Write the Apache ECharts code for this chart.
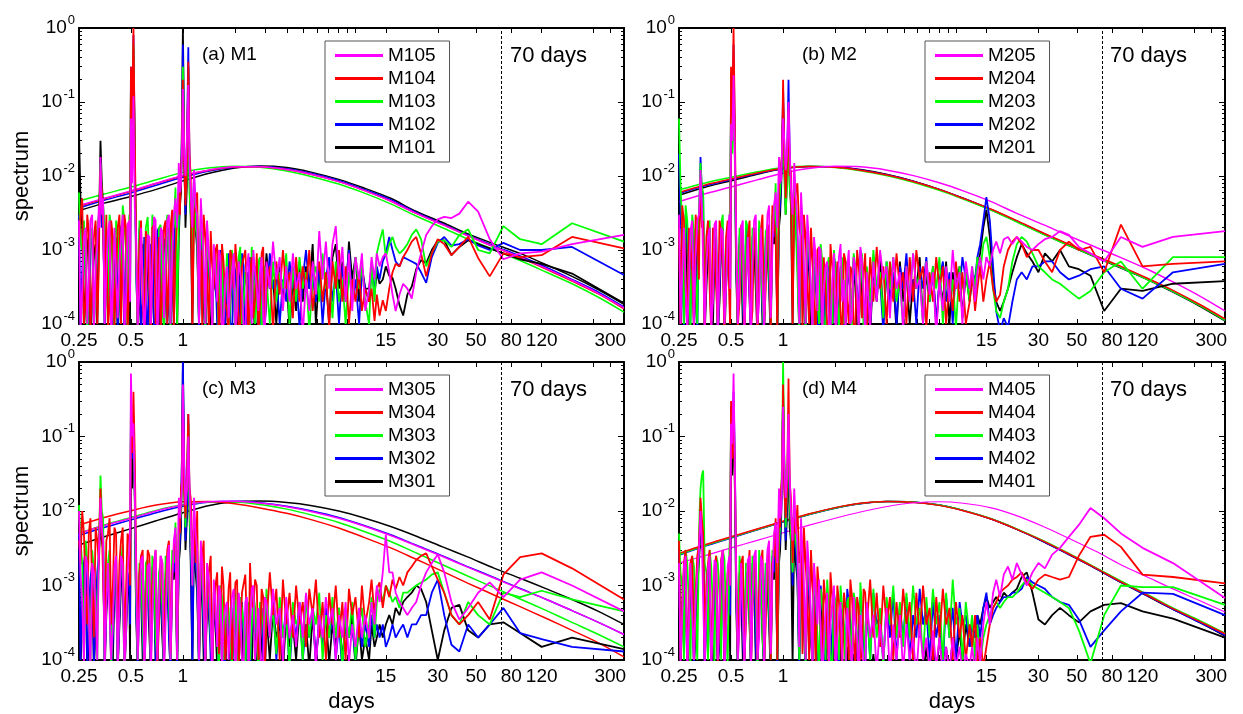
<!DOCTYPE html>
<html>
<head>
<meta charset="utf-8">
<script src="https://cdn.jsdelivr.net/npm/echarts@6/dist/echarts.min.js"></script>
<style>
  html, body { margin: 0; padding: 0; background: #fff; }
  #chart { width: 1243px; height: 714px; }
</style>
</head>
<body>
<div id="chart"></div>
<script>
// periods (days) of the spectral estimates, shared by every spectrum
const periods = [
  0.25, 0.261, 0.273, 0.285, 0.298, 0.312, 0.326, 0.333, 0.345, 0.36,
  0.376, 0.393, 0.41, 0.429, 0.448, 0.468, 0.489, 0.5, 0.517, 0.535,
  0.56, 0.585, 0.61, 0.64, 0.665, 0.695, 0.727, 0.76, 0.794, 0.83,
  0.867, 0.906, 0.947, 0.975, 1.0, 1.035, 1.075, 1.11, 1.16, 1.21,
  1.27, 1.32, 1.38, 1.45, 1.51, 1.58, 1.65, 1.72, 1.8, 1.88,
  1.97, 2.06, 2.15, 2.25, 2.35, 2.45, 2.56, 2.68, 2.8, 2.92,
  3.05, 3.19, 3.33, 3.48, 3.64, 3.8, 3.97, 4.15, 4.34, 4.53,
  4.74, 4.95, 5.17, 5.4, 5.65, 5.9, 6.17, 6.45, 6.74, 7.04,
  7.36, 7.69, 8.03, 8.4, 8.77, 9.17, 9.58, 10, 10.5, 10.9,
  11.4, 12, 12.4, 12.9, 13.3, 13.8, 14.4, 15, 15.7, 16.4,
  17.1, 18, 18.9, 20, 21.2, 22.5, 24, 25.7, 27.7, 30,
  32.7, 36, 40, 45, 51.4, 60, 72, 90, 120, 180,
  360
];
// extra estimates in between, for the dense short-period band
const periodsMid = [
  0.255, 0.267, 0.279, 0.291, 0.305, 0.319, 0.329, 0.339, 0.352, 0.368,
  0.384, 0.401, 0.419, 0.438, 0.458, 0.478, 0.494, 0.508, 0.526, 0.547,
  0.572, 0.597, 0.625, 0.652, 0.68, 0.711, 0.743, 0.777, 0.812, 0.848,
  0.886, 0.926, 0.961, 0.987, 1.017, 1.055, 1.092, 1.135, 1.185, 1.24,
  1.295, 1.35, 1.415, 1.48, 1.545, 1.615, 1.685, 1.76, 1.84, 1.925,
  2.015, 2.105, 2.2, 2.3, 2.4, 2.505, 2.62, 2.74, 2.86, 2.985
];
// periods of the smooth reference spectra
const fitPeriods = [0.25, 0.35, 0.5, 0.7, 1, 1.4, 2, 2.8, 4, 5.6, 8, 11, 16, 22, 32, 45, 64, 90, 128, 180, 256, 360];

const xTickValues = [0.25, 0.5, 1, 2, 3, 4, 5, 6, 7, 8, 9, 10, 15, 30, 50, 80, 120, 240, 300];
const xLabelValues = [0.25, 0.5, 1, 15, 30, 50, 80, 120, 300];
const yTickValues = [1e-4, 1e-3, 1e-2, 1e-1, 1];
const yMinorValues = [
  2e-4, 3e-4, 4e-4, 5e-4, 6e-4, 7e-4, 8e-4, 9e-4,
  2e-3, 3e-3, 4e-3, 5e-3, 6e-3, 7e-3, 8e-3, 9e-3,
  2e-2, 3e-2, 4e-2, 5e-2, 6e-2, 7e-2, 8e-2, 9e-2,
  0.2, 0.3, 0.4, 0.5, 0.6, 0.7, 0.8, 0.9
];

// ---------- (a) M1 ----------
const aM105 = [
  2.5e-3, 3e-4, 2e-3, 4e-4, 3e-3, 6e-4, 4e-3, 1.8e-2, 5e-3, 5e-4,
  2.5e-3, 3e-4, 2e-3, 7e-4, 3e-3, 2e-4, 2.5e-3, 6e-2, 1.2e-1, 1.5e-3,
  3e-4, 2e-3, 2e-4, 1.5e-3, 5e-4, 2.5e-3, 3e-4, 1.8e-3, 6e-4, 3e-3,
  8e-4, 5e-3, 1.5e-2, 8e-3, 1.5e-1, 1e-2, 1.7e-1, 6e-3, 1.2e-2, 3e-3,
  5e-3, 8e-4, 2.5e-3, 4e-4, 1.2e-3, 2e-4, 8e-4, 1e-4, 6e-4, 2.5e-4,
  9e-4, 1.5e-4, 5e-4, 8e-5, 6e-4, 2e-4, 1e-3, 3e-4, 5e-4, 1.2e-4,
  7e-4, 3e-4, 1.3e-3, 4e-4, 8e-4, 1.5e-4, 6e-4, 2e-4, 9e-4, 3e-4,
  5e-4, 7e-5, 4e-4, 1.5e-4, 7e-4, 2.5e-4, 1.8e-3, 4e-4, 1.3e-3, 3e-4,
  1.2e-3, 2.1e-3, 4e-4, 1.1e-3, 2e-4, 9e-4, 1.5e-4, 8e-4, 4e-4, 9e-4,
  1.5e-4, 3e-4, 8e-4, 4e-4, 9e-4, 6e-4, 8e-4, 9e-4, 5e-4, 2.5e-4,
  1.5e-4, 2.5e-4, 3.5e-4, 3e-4, 2.2e-4, 5e-4, 9e-4, 1.6e-3, 2.1e-3, 2.6e-3,
  2.8e-3, 2.7e-3, 3.1e-3, 4.5e-3, 3.3e-3, 1.4e-3, 7.5e-4, 9e-4, 9.5e-4, 1.2e-3,
  1.6e-3
];
const aM105m = [
  8e-5, 1.5e-3, 1e-4, 2.5e-3, 7e-5, 1.2e-3, 2e-3, 3e-3, 1e-4, 1.8e-3,
  6e-5, 2e-3, 1.2e-4, 1.5e-3, 8e-5, 2.2e-3, 2e-4, 8e-3, 4e-3, 9e-5,
  2e-3, 7e-5, 1.6e-3, 1e-4, 2.8e-3, 6e-5, 2e-3, 1.2e-4, 2.5e-3, 1e-4,
  3e-3, 2e-3, 6e-3, 2e-2, 2e-2, 3e-2, 1.5e-2, 2e-3, 4e-3, 1e-4,
  2e-3, 1e-4, 9e-4, 7e-5, 5e-4, 1e-3, 6e-5, 4e-4, 1.2e-4, 5e-4,
  8e-5, 7e-4, 3e-4, 6e-5, 9e-4, 1e-4, 5e-4, 1.5e-4, 8e-4, 7e-5
];
const aM104 = [
  1.5e-3, 5e-3, 2e-4, 1.8e-3, 3e-4, 2.5e-3, 6e-4, 1.2e-2, 2e-3, 3e-3,
  2e-4, 1.5e-3, 4e-4, 3e-3, 8e-4, 2e-3, 4e-4, 3e-1, 1, 2e-3,
  1.2e-3, 2e-4, 1.8e-3, 3e-4, 2e-3, 1e-4, 1.5e-3, 3e-4, 2.5e-3, 4e-4,
  3.5e-3, 1e-3, 6e-3, 1.2e-2, 2e-1, 4e-3, 3.5e-1, 1e-2, 3e-3, 6e-3,
  1e-3, 3e-3, 5e-4, 1.8e-3, 3e-4, 1.2e-3, 2e-4, 7e-4, 1.5e-4, 1e-3,
  3e-4, 6e-4, 1e-4, 8e-4, 3e-4, 5e-4, 1.2e-4, 9e-4, 2e-4, 1.1e-3,
  3e-4, 6e-4, 8e-5, 7e-4, 2.5e-4, 1e-3, 3e-4, 5e-4, 1.2e-4, 8e-4,
  2e-4, 6e-4, 3e-4, 1e-3, 1.5e-4, 4e-4, 7e-4, 2e-4, 5e-4, 9e-5,
  7e-4, 3e-4, 1e-3, 2e-4, 6e-4, 1e-4, 4e-4, 2e-4, 5e-4, 1.5e-4,
  3e-4, 2e-4, 3e-4, 1.1e-4, 2.5e-4, 1.3e-4, 2.1e-4, 1.5e-4, 3e-4, 5e-4,
  6.5e-4, 6e-4, 8e-4, 1e-3, 1.3e-3, 1.5e-3, 9e-4, 4.4e-4, 9e-4, 1.4e-3,
  1.2e-3, 8.5e-4, 1.1e-3, 1.5e-3, 7.8e-4, 4.4e-4, 9e-4, 8e-4, 8.5e-4, 1.5e-3,
  1.05e-3
];
const aM104m = [
  3e-3, 1e-4, 3e-3, 8e-5, 1.5e-3, 1e-4, 5e-3, 6e-3, 2e-4, 8e-5,
  2.5e-3, 9e-5, 2e-3, 1e-4, 3e-3, 7e-5, 1e-3, 5e-2, 3e-2, 1e-4,
  2.5e-3, 8e-5, 1.2e-3, 6e-5, 2.2e-3, 3e-4, 8e-5, 2e-3, 1e-4, 2e-3,
  9e-5, 2.5e-3, 3e-3, 2e-2, 1.5e-2, 1.5e-2, 2e-2, 1e-4, 4e-3, 2e-4,
  9e-5, 1.5e-3, 8e-5, 6e-4, 1e-3, 6e-5, 1.2e-3, 2e-4, 7e-5, 8e-4,
  1.2e-3, 7e-5, 6e-4, 1e-3, 6e-5, 8e-4, 2e-4, 7e-5, 9e-4, 1e-4
];
const aM103 = [
  6e-3, 1e-3, 2.5e-3, 5e-4, 2e-3, 3e-4, 3e-3, 1.5e-2, 4e-3, 1e-3,
  3e-3, 4e-4, 2.5e-3, 5e-4, 4e-3, 1e-3, 3e-3, 2e-1, 6e-1, 1e-3,
  2.5e-3, 4e-4, 2e-3, 6e-4, 3e-3, 5e-4, 2e-3, 1.5e-4, 1.5e-3, 6e-4,
  2.5e-3, 7e-3, 3e-3, 1e-2, 3e-1, 5e-3, 1.2e-1, 3e-3, 8e-3, 1.5e-3,
  4e-3, 4e-4, 1.5e-3, 2e-4, 1e-3, 4e-4, 5e-4, 1.2e-4, 9e-4, 2e-4,
  5e-4, 3e-4, 1.1e-3, 2e-4, 4e-4, 9e-5, 6e-4, 2e-4, 8e-4, 3e-4,
  4e-4, 1e-4, 7e-4, 2e-4, 5e-4, 3e-4, 9e-4, 1e-4, 6e-4, 2e-4,
  8e-4, 3e-4, 5e-4, 8e-5, 4e-4, 6e-4, 2e-4, 9e-4, 3e-4, 5e-4,
  1.2e-4, 7e-4, 2e-4, 4e-4, 1e-4, 5e-4, 2e-4, 8e-4, 3e-4, 6e-4,
  2e-4, 1e-4, 6e-4, 2e-4, 9e-4, 1.3e-3, 1.9e-3, 8e-4, 1.2e-3, 1.5e-3,
  1.1e-3, 9e-4, 1e-3, 1.2e-3, 1.6e-3, 1.9e-3, 1.4e-3, 6e-4, 9e-4, 1.3e-3,
  1.35e-3, 1.1e-3, 1.6e-3, 1.9e-3, 1e-3, 9e-4, 2.1e-3, 1.4e-3, 1.2e-3, 2.3e-3,
  1.3e-3
];
const aM103m = [
  1.2e-3, 2.5e-3, 6e-5, 1.5e-3, 8e-5, 2e-3, 4e-3, 5e-3, 2e-3, 9e-5,
  2e-3, 8e-5, 1.8e-3, 1e-4, 2.5e-3, 6e-5, 1.5e-3, 3e-2, 2e-2, 8e-5,
  1.5e-3, 1e-4, 2.8e-3, 7e-5, 1.8e-3, 1e-4, 2.2e-3, 9e-5, 3e-3, 8e-5,
  2e-3, 1e-4, 5e-3, 1.5e-2, 2.5e-2, 1e-2, 6e-3, 1e-3, 2e-3, 1e-4,
  1.2e-3, 8e-5, 7e-4, 1e-4, 8e-4, 6e-5, 9e-4, 2e-4, 6e-5, 1e-3,
  7e-5, 8e-4, 1e-4, 5e-4, 7e-5, 1.1e-3, 1e-4, 7e-4, 6e-5, 6e-4
];
const aM102 = [
  3e-3, 5e-4, 2e-3, 2e-4, 1.5e-3, 4e-4, 2e-3, 1e-2, 3e-3, 4e-4,
  2e-3, 2e-4, 1.5e-3, 3e-4, 2.5e-3, 6e-4, 1.5e-3, 3e-1, 8e-1, 6e-4,
  2e-3, 2e-4, 1.5e-3, 4e-4, 1e-3, 1e-4, 2e-3, 3e-4, 1e-3, 2e-4,
  2e-3, 4e-3, 2e-3, 8e-3, 6e-1, 3e-3, 5.5e-1, 4e-3, 1e-2, 2e-3,
  3e-3, 3e-4, 1.2e-3, 2e-4, 6e-4, 1e-4, 1e-3, 3e-4, 5e-4, 1e-4,
  7e-4, 2e-4, 4e-4, 6e-4, 1.5e-4, 8e-4, 3e-4, 5e-4, 9e-5, 6e-4,
  2e-4, 9e-4, 3e-4, 5e-4, 1e-4, 4e-4, 2e-4, 7e-4, 3e-4, 5e-4,
  9e-5, 4e-4, 1e-3, 3e-4, 5e-4, 2e-4, 6e-4, 1e-4, 4e-4, 8e-4,
  2e-4, 5e-4, 1e-4, 6e-4, 3e-4, 1e-3, 2e-4, 4e-4, 1e-4, 5e-4,
  3e-4, 2e-4, 5e-4, 3e-4, 6e-4, 4e-4, 7e-4, 9e-4, 1.5e-3, 1e-3,
  7e-4, 6e-4, 8e-4, 7.5e-4, 7e-4, 6.5e-4, 5e-4, 3.6e-4, 8e-4, 1.25e-3,
  1.5e-3, 1.15e-3, 1.2e-3, 1.4e-3, 1.15e-3, 1e-3, 1.25e-3, 1e-3, 1e-3, 1.1e-3,
  4.6e-4
];
const aM102m = [
  9e-5, 2e-3, 7e-5, 1.2e-3, 1e-4, 1.8e-3, 3e-3, 2e-3, 1e-4, 1.5e-3,
  7e-5, 1.2e-3, 9e-5, 2e-3, 6e-5, 1.3e-3, 2e-4, 4e-2, 3e-2, 1e-4,
  8e-5, 1.5e-3, 6e-5, 1.2e-3, 9e-5, 1.8e-3, 7e-5, 1.4e-3, 1e-4, 1.5e-3,
  8e-5, 3e-3, 5e-3, 3e-2, 2e-2, 2.5e-2, 1.5e-2, 2e-3, 3e-3, 8e-5,
  1e-3, 6e-5, 8e-4, 1e-4, 5e-4, 7e-5, 6e-4, 1e-4, 9e-4, 6e-5,
  5e-4, 1e-4, 9e-4, 7e-5, 4e-4, 1.2e-4, 6e-4, 8e-5, 5e-4, 1e-4
];
const aM101 = [
  4e-2, 2e-3, 3e-4, 1.5e-3, 2e-4, 1.2e-3, 3e-3, 3e-2, 4e-3, 6e-4,
  1.5e-3, 1e-4, 1.2e-3, 3e-4, 2e-3, 5e-4, 1e-3, 2e-1, 5e-1, 1e-3,
  2e-4, 1.2e-3, 1e-4, 1e-3, 3e-4, 1.5e-3, 1e-4, 1.2e-3, 4e-4, 2e-3,
  3e-4, 3e-3, 1.5e-3, 6e-3, 1, 2e-3, 3e-1, 3e-3, 6e-3, 1e-3,
  2e-3, 2e-4, 1e-3, 1e-4, 5e-4, 2e-4, 7e-4, 8e-5, 4e-4, 1.5e-4,
  6e-4, 1e-4, 8e-4, 3e-4, 5e-4, 1e-4, 3e-4, 7e-5, 5e-4, 2e-4,
  9e-4, 3e-4, 4e-4, 1e-4, 6e-4, 2e-4, 5e-4, 8e-5, 4e-4, 1.5e-4,
  7e-4, 2e-4, 6e-4, 3e-4, 1.2e-3, 1e-4, 5e-4, 2e-4, 4e-4, 1e-4,
  8e-4, 1.2e-3, 3e-4, 7e-4, 2e-4, 1.3e-3, 4e-4, 8e-4, 2e-4, 6e-4,
  3e-4, 3e-4, 6e-4, 2.5e-4, 5e-4, 3.5e-4, 4e-4, 6e-4, 4.5e-4, 4.2e-4,
  3e-4, 1.8e-4, 1.3e-4, 2.5e-4, 3.2e-4, 5.5e-4, 7.3e-4, 6.6e-4, 1e-3, 1.35e-3,
  1.35e-3, 8.5e-4, 1.1e-3, 1.35e-3, 1.2e-3, 1.05e-3, 9e-4, 7.5e-4, 6.5e-4, 4.8e-4,
  1.9e-4
];
const aM101m = [
  5e-3, 8e-5, 1.2e-3, 6e-5, 9e-4, 7e-5, 6e-3, 8e-3, 1e-4, 1.2e-3,
  8e-5, 9e-4, 6e-5, 1.5e-3, 9e-5, 1.2e-3, 1e-4, 3e-2, 2e-2, 7e-5,
  1e-3, 6e-5, 8e-4, 9e-5, 1.2e-3, 6e-5, 1e-3, 7e-5, 1.5e-3, 8e-5,
  2e-3, 8e-5, 4e-3, 5e-2, 3e-2, 8e-3, 1e-2, 8e-5, 2e-3, 1e-4,
  8e-4, 6e-5, 6e-4, 9e-5, 3e-4, 5e-5, 5e-4, 1e-4, 6e-5, 7e-4,
  5e-5, 4e-4, 6e-5, 3e-4, 8e-5, 6e-4, 5e-5, 2e-4, 6e-5, 4e-4
];
const aF101 = [3.4e-3, 4.3e-3, 5.3e-3, 6.6e-3, 8.6e-3, 1.08e-2, 1.28e-2, 1.36e-2, 1.3e-2, 1.12e-2, 9e-3, 7e-3, 5e-3, 3.4e-3, 2.35e-3, 1.65e-3, 1.2e-3, 9e-4, 6.3e-4, 4.4e-4, 2.9e-4, 1.85e-4];
const aF102 = [3.7e-3, 4.7e-3, 5.9e-3, 7.5e-3, 9.6e-3, 1.16e-2, 1.31e-2, 1.34e-2, 1.25e-2, 1.08e-2, 8.7e-3, 6.7e-3, 4.8e-3, 3.3e-3, 2.25e-3, 1.58e-3, 1.13e-3, 8.3e-4, 5.8e-4, 4e-4, 2.7e-4, 1.7e-4];
const aF103 = [4.6e-3, 5.7e-3, 7.1e-3, 8.9e-3, 1.12e-2, 1.28e-2, 1.35e-2, 1.31e-2, 1.17e-2, 9.8e-3, 7.8e-3, 6e-3, 4.2e-3, 2.95e-3, 2e-3, 1.4e-3, 1e-3, 7.2e-4, 5e-4, 3.5e-4, 2.3e-4, 1.45e-4];
const aF104 = [3.9e-3, 4.9e-3, 6.2e-3, 7.9e-3, 1.01e-2, 1.19e-2, 1.32e-2, 1.33e-2, 1.22e-2, 1.05e-2, 8.4e-3, 6.5e-3, 4.6e-3, 3.2e-3, 2.2e-3, 1.55e-3, 1.1e-3, 7.9e-4, 5.5e-4, 3.8e-4, 2.55e-4, 1.6e-4];
const aF105 = [4e-3, 5e-3, 6.3e-3, 8e-3, 1.02e-2, 1.2e-2, 1.33e-2, 1.33e-2, 1.22e-2, 1.05e-2, 8.4e-3, 6.5e-3, 4.6e-3, 3.2e-3, 2.2e-3, 1.55e-3, 1.1e-3, 8e-4, 5.6e-4, 3.9e-4, 2.6e-4, 1.65e-4];

// ---------- (b) M2 ----------
const bM205 = [
  3e-3, 5e-4, 2e-3, 3e-4, 2.5e-3, 8e-4, 3e-3, 1.2e-2, 4e-3, 6e-4,
  2e-3, 2e-4, 2.5e-3, 5e-4, 1.8e-3, 3e-4, 3e-3, 5e-2, 2.3e-1, 2e-3,
  4e-4, 2.5e-3, 3e-4, 1.5e-3, 7e-4, 3e-3, 2e-4, 2e-3, 6e-4, 4e-3,
  1e-3, 6e-3, 1.8e-2, 9e-3, 6e-2, 1.2e-2, 1e-1, 7e-3, 1.5e-2, 2.5e-3,
  6e-3, 6e-4, 3e-3, 3e-4, 1.5e-3, 1.5e-4, 1e-3, 3e-4, 7e-4, 8e-5,
  9e-4, 2e-4, 1.2e-3, 4e-4, 6e-4, 1e-4, 8e-4, 2.5e-4, 1.1e-3, 3e-4,
  5e-4, 9e-5, 7e-4, 2e-4, 1e-3, 4e-4, 6e-4, 1.2e-4, 8e-4, 3e-4,
  5e-4, 8e-5, 6e-4, 2e-4, 9e-4, 3e-4, 4e-4, 1e-4, 7e-4, 2.5e-4,
  5e-4, 7e-5, 4e-4, 1.5e-4, 6e-4, 2e-4, 1e-3, 3e-4, 5e-4, 1e-4,
  7e-4, 3e-4, 6e-4, 2e-4, 5e-4, 8e-4, 4e-4, 8e-4, 6e-4, 1e-3,
  1.3e-3, 9e-4, 1.4e-3, 1.5e-3, 1.2e-3, 1.5e-3, 1.3e-3, 1.1e-3, 1e-3, 1.2e-3,
  1.4e-3, 1.5e-3, 1.8e-3, 1.6e-3, 1.1e-3, 9e-4, 7e-4, 1.5e-3, 1.1e-3, 1.5e-3,
  1.8e-3
];
const bM205m = [
  1e-4, 2e-3, 7e-5, 1.8e-3, 9e-5, 2.5e-3, 5e-3, 4e-3, 8e-5, 1.5e-3,
  9e-5, 2.2e-3, 6e-5, 2e-3, 1e-4, 1.5e-3, 3e-4, 3e-2, 2e-2, 1e-4,
  2e-3, 8e-5, 1.5e-3, 6e-5, 2.5e-3, 1e-4, 2e-3, 8e-5, 3e-3, 1.2e-4,
  4e-3, 2e-3, 8e-3, 2.5e-2, 3e-2, 2e-2, 2.5e-2, 3e-3, 5e-3, 1e-4,
  2.5e-3, 1e-4, 1.2e-3, 6e-5, 8e-4, 1.1e-3, 7e-5, 6e-4, 1e-4, 4e-4,
  6e-5, 8e-4, 2e-4, 7e-5, 1e-3, 1.2e-4, 6e-4, 8e-5, 7e-4, 6e-5
];
const bM204 = [
  2e-3, 4e-3, 3e-4, 2e-3, 5e-4, 3e-3, 4e-4, 8e-3, 2.5e-3, 1.5e-3,
  3e-4, 2e-3, 3e-4, 2.5e-3, 6e-4, 1.5e-3, 2e-4, 3e-1, 1, 1.5e-3,
  2e-4, 1.8e-3, 4e-4, 2.5e-3, 1.5e-4, 1.2e-3, 5e-4, 3e-3, 3e-4, 2e-3,
  4e-3, 1.5e-3, 8e-3, 1.5e-2, 2e-1, 5e-3, 8e-2, 1.2e-2, 4e-3, 8e-3,
  1.5e-3, 3e-3, 4e-4, 2e-3, 2e-4, 1e-3, 5e-4, 8e-4, 1e-4, 1.2e-3,
  3e-4, 7e-4, 1.5e-4, 9e-4, 2e-4, 6e-4, 1e-4, 1e-3, 3e-4, 5e-4,
  8e-5, 8e-4, 2e-4, 1.1e-3, 3e-4, 6e-4, 1e-4, 7e-4, 2e-4, 9e-4,
  3e-4, 5e-4, 1e-4, 8e-4, 2e-4, 1e-3, 4e-4, 6e-4, 9e-5, 5e-4,
  2e-4, 8e-4, 3e-4, 6e-4, 1e-4, 4e-4, 1.5e-4, 7e-4, 2e-4, 5e-4,
  1e-4, 2e-4, 5e-4, 1.5e-4, 3e-4, 6e-4, 2e-4, 4e-4, 7e-4, 3e-4,
  2e-4, 2.5e-4, 6e-4, 1e-3, 1.3e-3, 1.5e-3, 1.2e-3, 8e-4, 1e-3, 1e-3,
  7e-4, 5e-4, 1e-3, 1.3e-3, 1e-3, 1.1e-3, 5e-4, 2.2e-3, 6e-4, 6.5e-4,
  7e-4
];
const bM204m = [
  1e-4, 2.5e-3, 8e-5, 1.2e-3, 9e-5, 1.8e-3, 3e-3, 2e-3, 7e-5, 2.5e-3,
  8e-5, 1.5e-3, 1e-4, 1.8e-3, 7e-5, 2.5e-3, 1e-4, 6e-2, 5e-2, 9e-5,
  2.2e-3, 7e-5, 1.5e-3, 9e-5, 2e-3, 6e-5, 1.8e-3, 1e-4, 2.2e-3, 8e-5,
  2.5e-3, 8e-5, 1e-2, 2e-2, 2e-2, 1.5e-2, 1e-2, 1e-4, 6e-3, 2e-3,
  8e-5, 1.4e-3, 1e-4, 7e-4, 6e-5, 1.1e-3, 1e-4, 8e-4, 7e-5, 6e-4,
  1e-4, 5e-4, 6e-5, 7e-4, 1e-4, 5e-4, 8e-5, 6e-4, 1.2e-4, 9e-4
];
const bM203 = [
  6e-2, 2e-3, 4e-3, 6e-4, 3e-3, 4e-4, 3.5e-3, 1.5e-2, 6e-3, 1e-3,
  2.5e-3, 3e-4, 2e-3, 7e-4, 3e-3, 4e-4, 2.5e-3, 1e-1, 2e-1, 1e-3,
  2e-3, 3e-4, 2.5e-3, 4e-4, 2e-3, 8e-4, 2.5e-3, 2e-4, 1.8e-3, 5e-4,
  3e-3, 8e-3, 4e-3, 1.2e-2, 5e-2, 3e-3, 4e-2, 5e-3, 9e-3, 2e-3,
  3e-3, 5e-4, 1.8e-3, 3e-4, 8e-4, 2e-4, 1.2e-3, 1e-4, 6e-4, 3e-4,
  1e-3, 2e-4, 5e-4, 1e-4, 7e-4, 3e-4, 9e-4, 2e-4, 4e-4, 8e-5,
  6e-4, 2e-4, 1e-3, 3e-4, 5e-4, 1.2e-4, 7e-4, 3e-4, 8e-4, 2e-4,
  4e-4, 9e-5, 6e-4, 2e-4, 9e-4, 3e-4, 5e-4, 1e-4, 7e-4, 2e-4,
  6e-4, 3e-4, 8e-4, 1e-4, 5e-4, 2e-4, 4e-4, 9e-5, 6e-4, 3e-4,
  5e-4, 2e-4, 6e-4, 3e-4, 8e-4, 5e-4, 1.2e-3, 1.5e-3, 8e-4, 3e-4,
  1.5e-4, 1.2e-4, 2e-4, 3e-4, 7e-4, 1.2e-3, 1.5e-3, 1.3e-3, 9e-4, 6e-4,
  5e-4, 4e-4, 3.5e-4, 2.8e-4, 2.2e-4, 2.8e-4, 5e-4, 7e-4, 3e-4, 8e-4,
  8e-4
];
const bM203m = [
  8e-3, 1e-4, 2.5e-3, 8e-5, 1.8e-3, 1e-4, 6e-3, 7e-3, 1e-4, 2e-3,
  1e-4, 1.8e-3, 7e-5, 2.2e-3, 9e-5, 1.8e-3, 4e-3, 2e-2, 1.5e-2, 9e-5,
  1.5e-3, 8e-5, 2e-3, 1e-4, 1.5e-3, 6e-5, 2.5e-3, 7e-5, 2e-3, 1e-4,
  2e-3, 1e-4, 6e-3, 2e-2, 1e-2, 8e-3, 7e-3, 1e-3, 2e-3, 8e-5,
  1.5e-3, 7e-5, 9e-4, 6e-5, 6e-4, 1e-4, 7e-4, 6e-5, 8e-4, 1e-4,
  4e-4, 8e-5, 8e-4, 1e-4, 5e-4, 6e-5, 6e-4, 1e-4, 9e-4, 7e-5
];
const bM202 = [
  2e-2, 1e-3, 3e-3, 4e-4, 2e-3, 6e-4, 2.5e-3, 1.8e-2, 5e-3, 8e-4,
  2e-3, 4e-4, 1.5e-3, 3e-4, 2e-3, 5e-4, 2e-3, 2.5e-1, 6e-1, 8e-4,
  1.5e-3, 2e-4, 2e-3, 3e-4, 1.5e-3, 6e-4, 2e-3, 1.5e-4, 1.5e-3, 4e-4,
  2.5e-3, 5e-3, 3e-3, 1e-2, 1.5e-1, 4e-3, 2e-1, 6e-3, 1e-2, 1.5e-3,
  2.5e-3, 3e-4, 1.5e-3, 2e-4, 7e-4, 1e-4, 9e-4, 3e-4, 5e-4, 1.5e-4,
  8e-4, 3e-4, 6e-4, 9e-5, 5e-4, 2e-4, 7e-4, 3e-4, 1e-3, 2e-4,
  5e-4, 1e-4, 6e-4, 3e-4, 4e-4, 8e-5, 7e-4, 2e-4, 5e-4, 1e-4,
  6e-4, 3e-4, 9e-4, 2e-4, 4e-4, 1e-4, 6e-4, 3e-4, 8e-4, 2e-4,
  5e-4, 1e-4, 4e-4, 7e-4, 2e-4, 5e-4, 1e-4, 6e-4, 3e-4, 8e-4,
  4e-4, 3e-4, 5e-4, 4e-4, 8e-4, 1.2e-3, 2.5e-3, 5.2e-3, 2.5e-3, 6e-4,
  1.5e-4, 8e-5, 1.2e-4, 9e-5, 2e-4, 4e-4, 5e-4, 4e-4, 6e-4, 6e-4,
  7e-4, 7e-4, 5e-4, 4e-4, 4.5e-4, 5.5e-4, 6e-4, 3e-4, 2.2e-4, 5e-4,
  6.5e-4
];
const bM202m = [
  3e-3, 8e-5, 1.5e-3, 1e-4, 1.2e-3, 7e-5, 5e-3, 6e-3, 9e-5, 1.5e-3,
  8e-5, 1.2e-3, 7e-5, 1.5e-3, 1e-4, 1.2e-3, 3e-4, 4e-2, 3e-2, 1e-4,
  2e-3, 6e-5, 1.5e-3, 8e-5, 1.8e-3, 1e-4, 1.5e-3, 7e-5, 2e-3, 9e-5,
  1.5e-3, 8e-5, 4e-3, 2e-2, 2e-2, 1.5e-2, 2e-2, 1.5e-3, 3e-3, 8e-5,
  1e-3, 7e-5, 7e-4, 1e-4, 4e-4, 6e-5, 5e-4, 9e-5, 7e-4, 1e-4,
  6e-4, 7e-5, 4e-4, 1.2e-4, 7e-4, 6e-5, 4e-4, 1e-4, 6e-4, 7e-5
];
const bM201 = [
  3e-3, 5e-4, 2e-3, 2e-4, 1.5e-3, 3e-4, 2e-3, 8e-3, 2e-3, 3e-4,
  1.5e-3, 1e-4, 1e-3, 2e-4, 1.8e-3, 3e-4, 1.2e-3, 1.5e-1, 2e-1, 5e-4,
  1.2e-3, 1e-4, 1.5e-3, 2e-4, 1e-3, 3e-4, 1.5e-3, 1e-4, 1.2e-3, 3e-4,
  2e-3, 4e-3, 2e-3, 7e-3, 1e-1, 3e-3, 6e-2, 4e-3, 7e-3, 1e-3,
  1.5e-3, 2e-4, 1e-3, 1e-4, 6e-4, 2e-4, 8e-4, 9e-5, 5e-4, 1e-4,
  7e-4, 2e-4, 4e-4, 1e-4, 6e-4, 3e-4, 8e-4, 1e-4, 5e-4, 2e-4,
  4e-4, 7e-5, 6e-4, 2e-4, 9e-4, 1e-4, 5e-4, 2e-4, 4e-4, 8e-5,
  7e-4, 2e-4, 5e-4, 1e-4, 4e-4, 3e-4, 8e-4, 1e-4, 5e-4, 2e-4,
  6e-4, 9e-5, 4e-4, 2e-4, 7e-4, 1e-4, 5e-4, 3e-4, 6e-4, 1.2e-4,
  5e-4, 2e-4, 4e-4, 3e-4, 6e-4, 9e-4, 2e-3, 3.5e-3, 1.5e-3, 4e-4,
  2e-4, 1.5e-4, 2e-4, 3e-4, 5e-4, 8e-4, 1.2e-3, 9e-4, 7e-4, 5e-4,
  9e-4, 7e-4, 1e-3, 6e-4, 5.5e-4, 4.5e-4, 1.5e-4, 3e-4, 2.8e-4, 3.5e-4,
  3.8e-4
];
const bM201m = [
  8e-5, 1.5e-3, 6e-5, 1e-3, 8e-5, 1.2e-3, 3e-3, 3e-3, 7e-5, 1e-3,
  6e-5, 8e-4, 7e-5, 1.2e-3, 6e-5, 9e-4, 1e-4, 3e-2, 2e-2, 8e-5,
  8e-4, 6e-5, 1e-3, 7e-5, 1.2e-3, 6e-5, 9e-4, 8e-5, 1e-3, 6e-5,
  1.2e-3, 8e-5, 3e-3, 2e-2, 1.5e-2, 1e-2, 8e-3, 9e-5, 2e-3, 7e-5,
  7e-4, 6e-5, 5e-4, 8e-5, 4e-4, 5e-5, 4e-4, 7e-5, 3e-4, 6e-5,
  5e-4, 6e-5, 3e-4, 7e-5, 4e-4, 5e-5, 3e-4, 6e-5, 2.5e-4, 7e-5
];
const bF201 = [5.5e-3, 7e-3, 8.6e-3, 1.05e-2, 1.25e-2, 1.34e-2, 1.33e-2, 1.22e-2, 1.05e-2, 8.6e-3, 6.6e-3, 5e-3, 3.5e-3, 2.5e-3, 1.65e-3, 1.15e-3, 8e-4, 5.7e-4, 4e-4, 2.7e-4, 1.75e-4, 1.1e-4];
const bF202 = [5.8e-3, 7.3e-3, 8.9e-3, 1.07e-2, 1.26e-2, 1.34e-2, 1.32e-2, 1.21e-2, 1.04e-2, 8.6e-3, 6.6e-3, 5e-3, 3.5e-3, 2.5e-3, 1.67e-3, 1.17e-3, 8.2e-4, 5.8e-4, 4.05e-4, 2.75e-4, 1.8e-4, 1.13e-4];
const bF203 = [6.5e-3, 8e-3, 9.6e-3, 1.13e-2, 1.3e-2, 1.35e-2, 1.3e-2, 1.18e-2, 1.01e-2, 8.3e-3, 6.4e-3, 4.9e-3, 3.45e-3, 2.45e-3, 1.63e-3, 1.15e-3, 8.1e-4, 5.8e-4, 4e-4, 2.75e-4, 1.78e-4, 1.12e-4];
const bF204 = [6e-3, 7.5e-3, 9.1e-3, 1.09e-2, 1.27e-2, 1.34e-2, 1.31e-2, 1.2e-2, 1.03e-2, 8.5e-3, 6.6e-3, 5e-3, 3.55e-3, 2.55e-3, 1.7e-3, 1.2e-3, 8.4e-4, 6e-4, 4.15e-4, 2.85e-4, 1.85e-4, 1.17e-4];
const bF205 = [4.5e-3, 5.7e-3, 7.1e-3, 8.8e-3, 1.09e-2, 1.26e-2, 1.35e-2, 1.33e-2, 1.2e-2, 1.02e-2, 8.1e-3, 6.3e-3, 4.5e-3, 3.2e-3, 2.2e-3, 1.55e-3, 1.1e-3, 7.9e-4, 5.5e-4, 3.7e-4, 2.4e-4, 1.5e-4];

// ---------- (c) M3 ----------
const cM305 = [
  1e-2, 6e-4, 2.5e-3, 4e-4, 2e-3, 5e-4, 3e-3, 1.5e-2, 4e-3, 5e-4,
  2e-3, 3e-4, 2.5e-3, 6e-4, 2e-3, 2e-4, 3e-3, 7e-1, 1.5e-1, 2e-3,
  5e-4, 2.5e-3, 2e-4, 2e-3, 4e-4, 3e-3, 6e-4, 2e-3, 3e-4, 3.5e-3,
  1e-3, 6e-3, 1.5e-2, 8e-3, 5e-1, 1.2e-2, 1e-1, 8e-3, 1.5e-2, 3e-3,
  4e-3, 6e-4, 2e-3, 3e-4, 1.2e-3, 1.5e-4, 8e-4, 3e-4, 6e-4, 1e-4,
  9e-4, 2e-4, 5e-4, 8e-5, 7e-4, 3e-4, 1e-3, 2e-4, 5e-4, 1e-4,
  6e-4, 2e-4, 9e-4, 3e-4, 5e-4, 9e-5, 7e-4, 2e-4, 4e-4, 1.5e-4,
  6e-4, 2e-4, 8e-4, 3e-4, 5e-4, 8e-5, 4e-4, 2e-4, 7e-4, 3e-4,
  5e-4, 1e-4, 4e-4, 2e-4, 6e-4, 9e-5, 3e-4, 1.5e-4, 5e-4, 2e-4,
  4e-4, 2e-4, 6e-4, 3e-4, 1e-3, 6e-4, 1.5e-3, 4.8e-3, 1.5e-3, 1.5e-3,
  8e-4, 6e-4, 5e-4, 4e-4, 5e-4, 6e-4, 1e-3, 1.5e-3, 2e-3, 2.6e-3,
  1.5e-3, 6e-4, 3.5e-4, 5e-4, 8e-4, 1.1e-3, 7e-4, 1.2e-3, 1.5e-3, 1e-3,
  4.5e-4
];
const cM305m = [
  1.5e-3, 9e-5, 2e-3, 7e-5, 1.5e-3, 1e-4, 5e-3, 6e-3, 8e-5, 2e-3,
  1e-4, 1.8e-3, 7e-5, 2.5e-3, 8e-5, 1.5e-3, 6e-3, 1e-1, 2e-2, 1e-4,
  2.2e-3, 8e-5, 1.8e-3, 6e-5, 2e-3, 1e-4, 2.5e-3, 7e-5, 2.2e-3, 1e-4,
  4e-3, 1e-4, 8e-3, 2e-2, 4e-2, 2e-2, 2e-2, 1e-3, 5e-3, 1e-4,
  2e-3, 8e-5, 1.2e-3, 6e-5, 6e-4, 1e-3, 7e-5, 5e-4, 1e-4, 7e-4,
  6e-5, 8e-4, 1e-4, 6e-4, 7e-5, 9e-4, 1e-4, 5e-4, 6e-5, 7e-4
];
const cM304 = [
  4e-3, 1e-2, 8e-4, 5e-3, 1e-3, 6e-3, 2e-3, 2e-2, 6e-3, 4e-3,
  8e-3, 1e-3, 5e-3, 2e-3, 6e-3, 8e-4, 4e-3, 1.5e-1, 4e-1, 3e-3,
  1.5e-3, 3e-3, 5e-4, 2.5e-3, 1e-3, 3e-3, 3e-4, 2e-3, 8e-4, 4e-3,
  1.5e-3, 5e-3, 1e-2, 2e-2, 3e-1, 8e-3, 2e-1, 1.5e-2, 6e-3, 1e-2,
  2e-3, 4e-3, 6e-4, 2.5e-3, 4e-4, 1.5e-3, 3e-4, 1e-3, 2e-4, 1.5e-3,
  4e-4, 1.2e-3, 2e-4, 8e-4, 3e-4, 2e-3, 5e-4, 1e-3, 1.5e-4, 7e-4,
  3e-4, 1.5e-3, 4e-4, 9e-4, 1e-4, 1.2e-3, 3e-4, 8e-4, 2e-4, 1e-3,
  3e-4, 6e-4, 1.5e-4, 9e-4, 4e-4, 1.2e-3, 2e-4, 6e-4, 1e-4, 8e-4,
  3e-4, 1e-3, 2e-4, 6e-4, 1e-4, 9e-4, 4e-4, 7e-4, 2e-4, 1e-3,
  3e-4, 6e-4, 1.2e-3, 4e-4, 9e-4, 1.1e-3, 5e-4, 1e-3, 7e-4, 1.2e-3,
  9e-4, 1.3e-3, 1e-3, 1.5e-3, 1.8e-3, 2.2e-3, 2.5e-3, 2.7e-3, 1.8e-3, 1.2e-3,
  8e-4, 4e-4, 3e-4, 4e-4, 6e-4, 3.5e-4, 1.4e-3, 2.4e-3, 2.7e-3, 1.7e-3,
  6.5e-4
];
const cM304m = [
  2e-3, 5e-3, 3e-4, 8e-3, 2e-4, 4e-3, 8e-3, 6e-3, 2e-4, 5e-3,
  3e-4, 6e-3, 2e-4, 4e-3, 1.5e-4, 5e-3, 1e-3, 6e-2, 6e-2, 2e-4,
  2.5e-3, 1e-4, 3e-3, 1.5e-4, 2e-3, 8e-5, 2.5e-3, 1e-4, 3e-3, 1.2e-4,
  3e-3, 1e-4, 5e-3, 2.5e-2, 2e-2, 3e-2, 2e-2, 3e-3, 2e-3, 1e-4,
  2.5e-3, 1e-4, 1.5e-3, 8e-5, 1e-3, 1.2e-4, 1.8e-3, 1e-4, 9e-4, 1e-4,
  1.1e-3, 9e-5, 8e-4, 1.4e-3, 1e-4, 6e-4, 1.2e-3, 1e-4, 9e-4, 8e-5
];
const cM303 = [
  1.2e-2, 2e-3, 4e-3, 5e-4, 3e-3, 8e-4, 4e-3, 3e-2, 8e-3, 1e-3,
  3e-3, 4e-4, 2e-3, 6e-4, 3.5e-3, 4e-4, 2e-3, 3e-1, 2e-1, 1e-3,
  2e-3, 3e-4, 2e-3, 5e-4, 2.5e-3, 2e-4, 1.5e-3, 5e-4, 2.5e-3, 6e-4,
  3e-3, 7e-3, 4e-3, 1e-2, 2e-1, 6e-3, 1.5e-1, 4e-3, 8e-3, 2e-3,
  3e-3, 4e-4, 1.5e-3, 2e-4, 8e-4, 3e-4, 1e-3, 1e-4, 6e-4, 2e-4,
  5e-4, 9e-5, 7e-4, 3e-4, 4e-4, 1e-4, 8e-4, 2e-4, 6e-4, 3e-4,
  9e-4, 2e-4, 5e-4, 1.2e-4, 7e-4, 2e-4, 4e-4, 8e-5, 6e-4, 3e-4,
  4e-4, 1e-4, 7e-4, 2e-4, 5e-4, 3e-4, 8e-4, 1e-4, 4e-4, 2e-4,
  7e-4, 2e-4, 5e-4, 8e-5, 4e-4, 2e-4, 6e-4, 1e-4, 3e-4, 5e-4,
  1.5e-4, 3e-4, 7e-4, 2e-4, 6e-4, 9e-4, 6e-4, 1e-3, 8e-4, 6e-4,
  7e-4, 5e-4, 8e-4, 8e-4, 9e-4, 1e-3, 1.1e-3, 1.2e-3, 1.4e-3, 1.5e-3,
  8e-4, 4e-4, 3e-4, 6e-4, 4e-4, 3e-4, 8e-4, 7e-4, 8.5e-4, 6.5e-4,
  4.5e-4
];
const cM303m = [
  4e-3, 1e-4, 2.2e-3, 8e-5, 1.6e-3, 1e-4, 8e-3, 1e-2, 1e-4, 2e-3,
  8e-5, 1.5e-3, 1e-4, 2e-3, 7e-5, 1.8e-3, 5e-3, 8e-2, 2e-2, 1e-4,
  1.6e-3, 7e-5, 2.2e-3, 9e-5, 1.5e-3, 1e-4, 2e-3, 8e-5, 1.8e-3, 1e-4,
  2e-3, 1e-4, 4e-3, 2e-2, 2e-2, 3e-2, 1e-2, 1e-3, 3e-3, 1e-4,
  1.2e-3, 8e-5, 8e-4, 1e-4, 5e-4, 6e-5, 7e-4, 1e-4, 5e-4, 7e-5,
  8e-4, 1e-4, 5e-4, 7e-5, 6e-4, 1e-4, 5e-4, 6e-5, 4e-4, 1e-4
];
const cM302 = [
  5e-3, 8e-4, 3e-3, 3e-4, 2e-3, 4e-4, 2.5e-3, 1.5e-2, 4e-3, 6e-4,
  2e-3, 2e-4, 1.5e-3, 4e-4, 2e-3, 3e-4, 1.5e-3, 2e-1, 1e-1, 6e-4,
  1.5e-3, 2e-4, 1.2e-3, 3e-4, 1.8e-3, 1e-4, 1.2e-3, 3e-4, 1.5e-3, 2e-4,
  2e-3, 4e-3, 2.5e-3, 8e-3, 1, 4e-3, 2e-1, 3e-3, 6e-3, 1.2e-3,
  2e-3, 2e-4, 1e-3, 1e-4, 6e-4, 2e-4, 7e-4, 9e-5, 4e-4, 2e-4,
  6e-4, 1e-4, 4e-4, 2e-4, 5e-4, 8e-5, 7e-4, 2e-4, 4e-4, 1e-4,
  5e-4, 2e-4, 6e-4, 1e-4, 4e-4, 2e-4, 5e-4, 7e-5, 4e-4, 2e-4,
  6e-4, 1e-4, 3e-4, 2e-4, 5e-4, 9e-5, 4e-4, 1.5e-4, 5e-4, 2e-4,
  4e-4, 1e-4, 3e-4, 7e-5, 4e-4, 2e-4, 3e-4, 1e-4, 4e-4, 1.5e-4,
  3e-4, 1.5e-4, 4e-4, 2e-4, 3e-4, 2e-4, 3e-4, 1.5e-4, 2e-4, 3e-4,
  2e-4, 2.5e-4, 3e-4, 2e-4, 3e-4, 3e-4, 4e-4, 4e-4, 8e-4, 1.2e-3,
  4e-4, 1.6e-4, 1.3e-4, 3e-4, 2e-4, 3e-4, 5e-4, 2.3e-4, 1.9e-4, 1.5e-4,
  1.3e-4
];
const cM302m = [
  1e-4, 2e-3, 7e-5, 1.2e-3, 9e-5, 1.5e-3, 5e-3, 6e-3, 8e-5, 1.2e-3,
  7e-5, 1.2e-3, 8e-5, 1.5e-3, 1e-4, 1e-3, 3e-4, 5e-2, 2e-2, 9e-5,
  1.2e-3, 7e-5, 1e-3, 8e-5, 1.5e-3, 6e-5, 1.2e-3, 8e-5, 1.8e-3, 7e-5,
  1.5e-3, 8e-5, 4e-3, 5e-2, 5e-2, 1e-2, 1.5e-2, 1e-4, 2e-3, 8e-5,
  9e-4, 6e-5, 5e-4, 9e-5, 3e-4, 6e-5, 5e-4, 1e-4, 4e-4, 6e-5,
  4e-4, 1e-4, 6e-4, 6e-5, 3e-4, 8e-5, 4e-4, 6e-5, 5e-4, 7e-5
];
const cM301 = [
  3e-3, 5e-4, 2e-3, 2e-4, 1.5e-3, 3e-4, 2e-3, 1e-2, 3e-3, 4e-4,
  1.5e-3, 1e-4, 1.2e-3, 3e-4, 1.5e-3, 2e-4, 1e-3, 1e-1, 8e-2, 5e-4,
  1e-3, 1e-4, 1.2e-3, 2e-4, 1.5e-3, 1e-4, 1e-3, 2e-4, 1.2e-3, 3e-4,
  1.5e-3, 3e-3, 2e-3, 6e-3, 1, 3e-3, 1.5e-1, 2e-3, 5e-3, 8e-4,
  1.5e-3, 1e-4, 8e-4, 2e-4, 5e-4, 8e-5, 6e-4, 2e-4, 4e-4, 1e-4,
  5e-4, 2e-4, 4e-4, 7e-5, 3e-4, 1e-4, 5e-4, 2e-4, 3e-4, 8e-5,
  4e-4, 1e-4, 5e-4, 2e-4, 3e-4, 7e-5, 4e-4, 1.5e-4, 3e-4, 1e-4,
  5e-4, 2e-4, 3e-4, 8e-5, 4e-4, 1e-4, 3e-4, 2e-4, 4e-4, 9e-5,
  3e-4, 1.5e-4, 5e-4, 1e-4, 3e-4, 2e-4, 4e-4, 8e-5, 3e-4, 1e-4,
  2e-4, 1e-4, 3e-4, 1.5e-4, 2e-4, 3e-4, 2e-4, 3e-4, 4e-4, 3e-4,
  5e-4, 4e-4, 6e-4, 7e-4, 8e-4, 1e-3, 9e-4, 6e-4, 2.5e-4, 1e-4,
  2.5e-4, 5e-4, 5.5e-4, 2.5e-4, 2e-4, 3e-4, 3.2e-4, 2.3e-4, 1.5e-4, 2e-4,
  1.4e-4
];
const cM301m = [
  7e-5, 1.2e-3, 6e-5, 9e-4, 7e-5, 1e-3, 4e-3, 4e-3, 6e-5, 1e-3,
  6e-5, 9e-4, 7e-5, 1e-3, 6e-5, 8e-4, 1e-4, 2e-2, 1.5e-2, 7e-5,
  8e-4, 6e-5, 9e-4, 7e-5, 1e-3, 6e-5, 8e-4, 7e-5, 1e-3, 6e-5,
  1.2e-3, 7e-5, 3e-3, 5e-2, 4e-2, 8e-3, 1e-2, 8e-5, 1.5e-3, 7e-5,
  6e-4, 5e-5, 4e-4, 7e-5, 3e-4, 5e-5, 4e-4, 6e-5, 3e-4, 5e-5,
  3e-4, 6e-5, 2.5e-4, 5e-5, 3e-4, 6e-5, 2e-4, 5e-5, 3e-4, 6e-5
];
const cF301 = [3.5e-3, 4.5e-3, 5.8e-3, 7.4e-3, 9.5e-3, 1.18e-2, 1.33e-2, 1.36e-2, 1.3e-2, 1.18e-2, 1e-2, 8.2e-3, 6.2e-3, 4.7e-3, 3.3e-3, 2.4e-3, 1.7e-3, 1.25e-3, 9e-4, 6.5e-4, 4.5e-4, 3e-4];
const cF302 = [4.7e-3, 6e-3, 7.6e-3, 9.5e-3, 1.16e-2, 1.31e-2, 1.35e-2, 1.29e-2, 1.16e-2, 1e-2, 8.2e-3, 6.5e-3, 4.8e-3, 3.55e-3, 2.5e-3, 1.78e-3, 1.27e-3, 9.1e-4, 6.5e-4, 4.6e-4, 3.2e-4, 2.2e-4];
const cF303 = [5e-3, 6.5e-3, 8.2e-3, 1.02e-2, 1.21e-2, 1.32e-2, 1.32e-2, 1.22e-2, 1.06e-2, 8.8e-3, 7e-3, 5.4e-3, 3.9e-3, 2.8e-3, 1.9e-3, 1.33e-3, 9.3e-4, 6.6e-4, 4.6e-4, 3.2e-4, 2.2e-4, 1.5e-4];
const cF304 = [6.5e-3, 8.2e-3, 1.01e-2, 1.2e-2, 1.33e-2, 1.34e-2, 1.25e-2, 1.1e-2, 9.3e-3, 7.6e-3, 5.9e-3, 4.5e-3, 3.2e-3, 2.3e-3, 1.55e-3, 1.07e-3, 7.4e-4, 5.2e-4, 3.6e-4, 2.5e-4, 1.7e-4, 1.1e-4];
const cF305 = [5e-3, 6.4e-3, 8e-3, 1e-2, 1.2e-2, 1.33e-2, 1.35e-2, 1.28e-2, 1.14e-2, 9.8e-3, 8e-3, 6.4e-3, 4.7e-3, 3.5e-3, 2.45e-3, 1.75e-3, 1.25e-3, 9e-4, 6.5e-4, 4.6e-4, 3.2e-4, 2.2e-4];

// ---------- (d) M4 ----------
const dM405 = [
  2e-3, 4e-4, 2.5e-3, 3e-4, 2e-3, 6e-4, 3e-3, 1e-2, 4e-3, 5e-4,
  2.5e-3, 3e-4, 2e-3, 5e-4, 3e-3, 2e-4, 2.5e-3, 1.5e-1, 7e-1, 1.5e-3,
  3e-4, 2e-3, 4e-4, 2.5e-3, 6e-4, 3e-3, 2e-4, 2e-3, 7e-4, 4e-3,
  1.2e-3, 7e-3, 2e-2, 1e-2, 2.5e-1, 1.5e-2, 2e-1, 1e-2, 2e-2, 4e-3,
  8e-3, 1e-3, 4e-3, 4e-4, 2e-3, 3e-4, 1.2e-3, 1.5e-4, 8e-4, 3e-4,
  1e-3, 2e-4, 6e-4, 9e-5, 5e-4, 1.5e-4, 7e-4, 2e-4, 4e-4, 8e-5,
  6e-4, 2e-4, 4e-4, 7e-5, 3e-4, 1e-4, 5e-4, 6e-5, 3e-4, 1e-4,
  4e-4, 7e-5, 3e-4, 1e-4, 2e-4, 6e-5, 3e-4, 1e-4, 2e-4, 7e-5,
  2.5e-4, 8e-5, 2e-4, 6e-5, 1.5e-4, 7e-5, 2e-4, 8e-5, 1.5e-4, 6e-5,
  1.2e-4, 8e-5, 1.5e-4, 7e-5, 2e-4, 9e-5, 3e-4, 6e-4, 3e-4, 8e-4,
  1.2e-3, 7e-4, 1.4e-3, 1.8e-3, 1.2e-3, 2e-3, 1.4e-3, 1e-3, 1.5e-3, 2e-3,
  1.7e-3, 2.6e-3, 3.2e-3, 4.5e-3, 6.5e-3, 1.1e-2, 8e-3, 5e-3, 3.2e-3, 2e-3,
  6.8e-4
];
const dM405m = [
  9e-5, 1.8e-3, 7e-5, 2e-3, 1e-4, 1.5e-3, 5e-3, 4e-3, 8e-5, 1.8e-3,
  8e-5, 2.2e-3, 1e-4, 2e-3, 7e-5, 1.8e-3, 1e-3, 8e-2, 5e-2, 1e-4,
  2e-3, 8e-5, 2.2e-3, 7e-5, 2.5e-3, 1e-4, 2.5e-3, 8e-5, 3e-3, 1.2e-4,
  5e-3, 2e-3, 8e-3, 3e-2, 4e-2, 3e-2, 3e-2, 4e-3, 6e-3, 1.5e-4,
  3e-3, 1e-4, 1.5e-3, 7e-5, 9e-4, 1.2e-3, 6e-5, 5e-4, 9e-5, 6e-4,
  5e-5, 4e-4, 1e-4, 6e-5, 5e-4, 7e-5, 3e-4, 5e-5, 4e-4, 6e-5
];
const dM404 = [
  4e-3, 6e-4, 3e-3, 4e-4, 2.5e-3, 8e-4, 3.5e-3, 1.5e-2, 5e-3, 1e-3,
  3e-3, 5e-4, 2.5e-3, 4e-4, 3e-3, 6e-4, 2e-3, 3e-1, 2e-1, 2e-3,
  6e-4, 2.5e-3, 3e-4, 3e-3, 5e-4, 2e-3, 8e-4, 3e-3, 3e-4, 3e-3,
  2e-3, 8e-3, 1.2e-2, 2e-2, 5e-1, 8e-3, 6e-1, 1.5e-2, 8e-3, 1.2e-2,
  3e-3, 6e-3, 8e-4, 3e-3, 5e-4, 1.8e-3, 3e-4, 1.2e-3, 2e-4, 1.5e-3,
  4e-4, 1e-3, 2e-4, 8e-4, 3e-4, 1.2e-3, 2e-4, 7e-4, 1e-4, 9e-4,
  3e-4, 1.2e-3, 2e-4, 8e-4, 1.5e-4, 1e-3, 3e-4, 7e-4, 1e-4, 6e-4,
  2e-4, 9e-4, 3e-4, 6e-4, 1e-4, 8e-4, 2e-4, 1e-3, 3e-4, 5e-4,
  1e-4, 7e-4, 2e-4, 9e-4, 3e-4, 5e-4, 1e-4, 6e-4, 2e-4, 4e-4,
  1e-4, 3e-4, 1.5e-4, 4e-4, 9e-5, 2e-4, 8e-5, 1.5e-4, 3e-4, 5e-4,
  6e-4, 8e-4, 9e-4, 1e-3, 1.2e-3, 1.3e-3, 1.5e-3, 1.1e-3, 9e-4, 1.2e-3,
  1.4e-3, 1.3e-3, 1.2e-3, 1.3e-3, 2.5e-3, 4.5e-3, 4.8e-3, 3.3e-3, 1.4e-3, 1.3e-3,
  1.07e-3
];
const dM404m = [
  1e-4, 2e-3, 8e-5, 2e-3, 1e-4, 2.5e-3, 6e-3, 8e-3, 1.5e-4, 2e-3,
  1e-4, 1.8e-3, 9e-5, 2.2e-3, 1e-4, 1.5e-3, 1e-3, 5e-2, 3e-2, 1.2e-4,
  2e-3, 1e-4, 1.5e-3, 8e-5, 2.2e-3, 1e-4, 2e-3, 9e-5, 2.5e-3, 1e-4,
  2.5e-3, 1e-4, 6e-3, 3e-2, 2e-2, 2e-2, 2.5e-2, 2e-3, 5e-3, 2e-3,
  1.2e-4, 2e-3, 1e-4, 1e-3, 8e-5, 9e-4, 1e-4, 6e-4, 7e-5, 7e-4,
  1e-4, 6e-4, 7e-5, 5e-4, 1e-4, 7e-4, 8e-5, 5e-4, 1.2e-4, 8e-4
];
const dM403 = [
  5e-3, 1e-3, 3e-3, 6e-4, 2.5e-3, 4e-4, 4e-3, 2e-2, 3.5e-2, 1.5e-3,
  3e-3, 5e-4, 2.5e-3, 7e-4, 3e-3, 4e-4, 3e-3, 2e-1, 3e-1, 1.5e-3,
  2.5e-3, 5e-4, 2e-3, 3e-4, 2.5e-3, 6e-4, 3e-3, 2e-4, 2e-3, 5e-4,
  3e-3, 6e-3, 4e-3, 1.5e-2, 1, 6e-3, 1.5e-1, 5e-3, 1.2e-2, 2.5e-3,
  5e-3, 6e-4, 2.5e-3, 3e-4, 1.5e-3, 2e-4, 9e-4, 3e-4, 1.2e-3, 1e-4,
  7e-4, 2e-4, 1e-3, 3e-4, 6e-4, 1e-4, 8e-4, 2e-4, 1.1e-3, 3e-4,
  6e-4, 1e-4, 9e-4, 2e-4, 5e-4, 8e-5, 7e-4, 3e-4, 1e-3, 2e-4,
  6e-4, 1.5e-4, 8e-4, 2e-4, 1e-3, 3e-4, 5e-4, 1e-4, 7e-4, 2e-4,
  9e-4, 3e-4, 6e-4, 1e-4, 8e-4, 2e-4, 1.2e-3, 3e-4, 5e-4, 1e-4,
  6e-4, 2e-4, 4e-4, 1e-4, 3e-4, 9e-5, 2e-4, 3e-4, 4e-4, 5e-4,
  6e-4, 5e-4, 6e-4, 7e-4, 7e-4, 8e-4, 1e-3, 1.2e-3, 1e-3, 9e-4,
  8e-4, 7e-4, 6e-4, 5e-4, 2.5e-4, 9e-5, 4e-4, 1e-3, 9.5e-4, 9.5e-4,
  5.5e-4
];
const dM403m = [
  1.5e-3, 1e-4, 2e-3, 8e-5, 1.8e-3, 1e-4, 1e-2, 3e-2, 2e-3, 1e-4,
  1.8e-3, 9e-5, 2e-3, 1e-4, 2.2e-3, 8e-5, 5e-3, 6e-2, 4e-2, 1e-4,
  1.5e-3, 8e-5, 1.8e-3, 1e-4, 2e-3, 7e-5, 1.5e-3, 9e-5, 1.8e-3, 1e-4,
  2.5e-3, 1e-4, 6e-3, 5e-2, 5e-2, 2e-2, 1.5e-2, 1.5e-3, 4e-3, 1e-4,
  2e-3, 8e-5, 1.2e-3, 1e-4, 7e-4, 6e-5, 6e-4, 1e-4, 5e-4, 8e-5,
  6e-4, 1e-4, 5e-4, 8e-5, 7e-4, 1e-4, 6e-4, 7e-5, 5e-4, 1e-4
];
const dM402 = [
  3e-3, 5e-4, 2e-3, 3e-4, 1.5e-3, 4e-4, 2.5e-3, 1.2e-2, 4e-3, 6e-4,
  2e-3, 3e-4, 1.5e-3, 2e-4, 2e-3, 4e-4, 1.5e-3, 2.5e-1, 4e-1, 1e-3,
  1.5e-3, 2e-4, 1.5e-3, 4e-4, 2e-3, 1.5e-4, 1.5e-3, 3e-4, 2e-3, 4e-4,
  2.5e-3, 5e-3, 3e-3, 1e-2, 3e-1, 4e-3, 1e-1, 6e-3, 1e-2, 1.5e-3,
  3e-3, 4e-4, 1.5e-3, 2e-4, 8e-4, 1e-4, 1e-3, 2e-4, 6e-4, 3e-4,
  8e-4, 1e-4, 5e-4, 2e-4, 9e-4, 3e-4, 6e-4, 1e-4, 7e-4, 2e-4,
  5e-4, 1e-4, 8e-4, 3e-4, 4e-4, 9e-5, 6e-4, 2e-4, 8e-4, 1e-4,
  5e-4, 2e-4, 7e-4, 1e-4, 4e-4, 2e-4, 9e-4, 3e-4, 5e-4, 1e-4,
  6e-4, 2e-4, 4e-4, 8e-5, 7e-4, 2e-4, 5e-4, 1e-4, 6e-4, 3e-4,
  4e-4, 1.5e-4, 3e-4, 2e-4, 4e-4, 2e-4, 5e-4, 8e-4, 3e-4, 4e-4,
  5e-4, 6e-4, 7e-4, 7e-4, 8e-4, 8e-4, 9e-4, 1.3e-3, 1.1e-3, 1e-3,
  9e-4, 7e-4, 6e-4, 5.5e-4, 3.5e-4, 1.5e-4, 2.5e-4, 4.5e-4, 8e-4, 7.7e-4,
  4e-4
];
const dM402m = [
  1e-4, 1.5e-3, 7e-5, 1.2e-3, 9e-5, 1.5e-3, 5e-3, 5e-3, 8e-5, 1.2e-3,
  7e-5, 1.2e-3, 9e-5, 1.5e-3, 7e-5, 1.2e-3, 4e-4, 6e-2, 5e-2, 1e-4,
  1.2e-3, 7e-5, 1e-3, 8e-5, 1.5e-3, 6e-5, 1.2e-3, 8e-5, 1.5e-3, 1e-4,
  1.5e-3, 8e-5, 4e-3, 3e-2, 3e-2, 1.5e-2, 1.5e-2, 1e-3, 3e-3, 8e-5,
  1.2e-3, 7e-5, 7e-4, 1e-4, 5e-4, 6e-5, 6e-4, 9e-5, 4e-4, 1e-4,
  5e-4, 6e-5, 4e-4, 1e-4, 6e-4, 7e-5, 4e-4, 1e-4, 5e-4, 7e-5
];
const dM401 = [
  2.5e-3, 4e-4, 1.5e-3, 2e-4, 1.2e-3, 3e-4, 2e-3, 8e-3, 3e-3, 4e-4,
  1.5e-3, 1e-4, 1e-3, 2e-4, 1.5e-3, 3e-4, 1e-3, 1.5e-1, 2e-1, 6e-4,
  1e-3, 1e-4, 1.2e-3, 3e-4, 1.5e-3, 1e-4, 1e-3, 2e-4, 1.5e-3, 3e-4,
  2e-3, 4e-3, 2e-3, 8e-3, 4e-1, 3e-3, 8e-2, 4e-3, 6e-3, 1.2e-3,
  2.5e-3, 3e-4, 1.5e-3, 2e-4, 1e-3, 1e-4, 6e-4, 2e-4, 4e-4, 8e-5,
  3e-4, 6e-5, 2e-4, 5e-5, 1.5e-4, 6e-5, 1.2e-4, 5e-5, 1e-4, 4e-5,
  1e-4, 5e-5, 1.2e-4, 4e-5, 8e-5, 5e-5, 1e-4, 4e-5, 8e-5, 5e-5,
  1e-4, 4e-5, 8e-5, 5e-5, 1.2e-4, 4e-5, 1e-4, 6e-5, 1.5e-4, 5e-5,
  1.5e-4, 6e-5, 2e-4, 8e-5, 1.5e-4, 6e-5, 2e-4, 1e-4, 2.5e-4, 1e-4,
  3e-4, 1.5e-4, 3e-4, 2e-4, 4e-4, 3e-4, 5e-4, 7e-4, 5e-4, 6e-4,
  7e-4, 6e-4, 8e-4, 7e-4, 8e-4, 9e-4, 1.3e-3, 1.5e-3, 8e-4, 3.5e-4,
  3e-4, 4e-4, 5e-4, 4e-4, 3.2e-4, 4.5e-4, 5.5e-4, 5.8e-4, 4.5e-4, 3.6e-4,
  2e-4
];
const dM401m = [
  7e-5, 1.2e-3, 6e-5, 9e-4, 7e-5, 1e-3, 3e-3, 4e-3, 7e-5, 1e-3,
  6e-5, 9e-4, 7e-5, 1e-3, 6e-5, 8e-4, 1e-4, 3e-2, 2e-2, 7e-5,
  8e-4, 6e-5, 9e-4, 7e-5, 1e-3, 6e-5, 9e-4, 7e-5, 1e-3, 6e-5,
  1.2e-3, 8e-5, 3e-3, 4e-2, 4e-2, 1e-2, 6e-3, 9e-5, 2e-3, 8e-5,
  9e-4, 6e-5, 6e-4, 8e-5, 4e-4, 5e-5, 2e-4, 6e-5, 1.5e-4, 4e-5,
  1e-4, 4e-5, 8e-5, 3e-5, 6e-5, 4e-5, 5e-5, 3e-5, 6e-5, 4e-5
];
const dF401 = [2.6e-3, 3.4e-3, 4.4e-3, 5.6e-3, 7.2e-3, 9e-3, 1.1e-2, 1.26e-2, 1.34e-2, 1.32e-2, 1.2e-2, 1.02e-2, 7.8e-3, 5.8e-3, 3.9e-3, 2.6e-3, 1.7e-3, 1.1e-3, 7.2e-4, 4.8e-4, 3.2e-4, 2.1e-4];
const dF402 = [2.55e-3, 3.35e-3, 4.35e-3, 5.55e-3, 7.1e-3, 8.9e-3, 1.09e-2, 1.25e-2, 1.34e-2, 1.32e-2, 1.2e-2, 1.02e-2, 7.8e-3, 5.8e-3, 3.9e-3, 2.6e-3, 1.7e-3, 1.1e-3, 7.3e-4, 4.8e-4, 3.2e-4, 2.15e-4];
const dF403 = [2.6e-3, 3.4e-3, 4.4e-3, 5.6e-3, 7.2e-3, 9e-3, 1.1e-2, 1.26e-2, 1.34e-2, 1.32e-2, 1.2e-2, 1.02e-2, 7.9e-3, 5.9e-3, 4e-3, 2.7e-3, 1.75e-3, 1.15e-3, 7.6e-4, 5e-4, 3.4e-4, 2.3e-4];
const dF404 = [2.7e-3, 3.5e-3, 4.5e-3, 5.7e-3, 7.3e-3, 9.1e-3, 1.11e-2, 1.27e-2, 1.34e-2, 1.31e-2, 1.19e-2, 1.01e-2, 7.8e-3, 5.8e-3, 3.95e-3, 2.65e-3, 1.72e-3, 1.12e-3, 7.4e-4, 4.9e-4, 3.3e-4, 2.25e-4];
const dF405 = [2e-3, 2.5e-3, 3.2e-3, 4e-3, 5.1e-3, 6.4e-3, 8e-3, 9.7e-3, 1.15e-2, 1.28e-2, 1.33e-2, 1.27e-2, 1.1e-2, 8.8e-3, 6.2e-3, 4.3e-3, 2.9e-3, 1.9e-3, 1.3e-3, 9e-4, 6.3e-4, 4.4e-4];

const colors = ['#000000', '#0000ff', '#00ff00', '#ff0000', '#ff00ff'];
const fontFamily = '"Liberation Sans", Arial, Helvetica, sans-serif';

const panels = [
  { tag: '(a) M1', names: ['M101', 'M102', 'M103', 'M104', 'M105'],
    spectra: [aM101, aM102, aM103, aM104, aM105], mids: [aM101m, aM102m, aM103m, aM104m, aM105m],
    fits: [aF101, aF102, aF103, aF104, aF105] },
  { tag: '(b) M2', names: ['M201', 'M202', 'M203', 'M204', 'M205'],
    spectra: [bM201, bM202, bM203, bM204, bM205], mids: [bM201m, bM202m, bM203m, bM204m, bM205m],
    fits: [bF201, bF202, bF203, bF204, bF205] },
  { tag: '(c) M3', names: ['M301', 'M302', 'M303', 'M304', 'M305'],
    spectra: [cM301, cM302, cM303, cM304, cM305], mids: [cM301m, cM302m, cM303m, cM304m, cM305m],
    fits: [cF301, cF302, cF303, cF304, cF305] },
  { tag: '(d) M4', names: ['M401', 'M402', 'M403', 'M404', 'M405'],
    spectra: [dM401, dM402, dM403, dM404, dM405], mids: [dM401m, dM402m, dM403m, dM404m, dM405m],
    fits: [dF401, dF402, dF403, dF404, dF405] }
];

const rects = [
  { left: 79, top: 28, width: 545, height: 296 },
  { left: 679, top: 28, width: 546, height: 296 },
  { left: 79, top: 362, width: 545, height: 298 },
  { left: 679, top: 362, width: 546, height: 298 }
];

const grid = [], xAxis = [], yAxis = [], series = [], legend = [], graphic = [];
const axisLine = { onZero: false, lineStyle: { color: '#000', width: 2 } };
const tickLine = { color: '#000', width: 1 };

panels.forEach((p, i) => {
  const r = rects[i];
  grid.push({ left: r.left, top: r.top, width: r.width, height: r.height, outerBoundsMode: 'none' });

  const xBase = {
    type: 'log', logBase: 10, min: 0.25, max: 360, gridIndex: i,
    splitLine: { show: false }, axisLine,
    axisTick: { inside: true, length: 5, lineStyle: tickLine, customValues: xTickValues }
  };
  xAxis.push(Object.assign({}, xBase, {
    position: 'bottom',
    axisLabel: {
      customValues: xLabelValues, color: '#000', fontSize: 19, fontFamily, margin: 7,
      formatter: v => String(+(+v).toPrecision(4))
    }
  }));
  xAxis.push(Object.assign({}, xBase, { position: 'top', axisLabel: { show: false } }));

  const yBase = {
    type: 'log', logBase: 10, min: 1e-4, max: 1, gridIndex: i,
    splitLine: { show: false }, axisLabel: { show: false }
  };
  yAxis.push(Object.assign({}, yBase, {
    position: 'left', axisLine,
    axisTick: { inside: true, length: 6, lineStyle: tickLine, customValues: yTickValues },
    axisLabel: {
      show: true, customValues: yTickValues, margin: 4,
      formatter: v => '{b|10}{s|' + Math.round(Math.log10(v)) + '}',
      rich: {
        b: { fontSize: 19, fontFamily, color: '#000' },
        s: { fontSize: 13, fontFamily, color: '#000', padding: [0, 0, 16, 1] }
      }
    }
  }));
  yAxis.push(Object.assign({}, yBase, {
    position: 'left', axisLine: { show: false },
    axisTick: { inside: true, length: 3, lineStyle: tickLine, customValues: yMinorValues }
  }));
  yAxis.push(Object.assign({}, yBase, {
    position: 'right', axisLine,
    axisTick: { inside: true, length: 6, lineStyle: tickLine, customValues: yTickValues }
  }));
  yAxis.push(Object.assign({}, yBase, {
    position: 'right', axisLine: { show: false },
    axisTick: { inside: true, length: 3, lineStyle: tickLine, customValues: yMinorValues }
  }));

  p.fits.forEach((vals, k) => {
    const s = {
      type: 'line', name: p.names[k] + ' fit', xAxisIndex: 2 * i, yAxisIndex: 4 * i,
      data: fitPeriods.map((x, j) => [x, vals[j]]),
      smooth: 0.3, symbol: 'none', silent: true, z: 2,
      color: colors[k], lineStyle: { color: colors[k], width: (i === 3 && k === 4) ? 1.2 : 1.5 }
    };
    if (k === 0) {
      s.markLine = {
        silent: true, symbol: ['none', 'none'], label: { show: false },
        lineStyle: { color: '#000', type: [3, 2], width: 1 },
        data: [{ xAxis: 70 }]
      };
    }
    series.push(s);
  });
  p.spectra.forEach((vals, k) => {
    const mid = p.mids[k];
    const pts = periods.map((x, j) => [x, vals[j]])
      .concat(periodsMid.map((x, j) => [x, mid[j]]))
      .sort((u, w) => u[0] - w[0]);
    series.push({
      type: 'line', name: p.names[k], xAxisIndex: 2 * i, yAxisIndex: 4 * i,
      data: pts, symbol: 'none', silent: true, z: 3, clip: true,
      color: colors[k], lineStyle: { color: colors[k], width: 1.8 }
    });
  });

  legend.push({
    data: p.names.slice().reverse(), orient: 'vertical',
    left: r.left + 246, top: r.top + 13,
    icon: 'rect', itemWidth: 48, itemHeight: 3, itemGap: 4,
    padding: [5, 14, 5, 10], borderColor: '#555', borderWidth: 1, backgroundColor: '#fff',
    selectedMode: false,
    textStyle: { fontSize: 19, lineHeight: 19, color: '#000', fontFamily }
  });

  graphic.push({
    type: 'text', x: r.left + 123, y: r.top + 27,
    style: { text: p.tag, fontSize: 19, fontFamily, fill: '#000', align: 'left', verticalAlign: 'middle' }
  });
  graphic.push({
    type: 'text', x: r.left + 431, y: r.top + 28,
    style: { text: '70 days', fontSize: 22, fontFamily, fill: '#000', align: 'left', verticalAlign: 'middle' }
  });
  if (i % 2 === 0) {
    graphic.push({
      type: 'text', x: 22, y: r.top + r.height / 2, rotation: Math.PI / 2,
      style: { text: 'spectrum', fontSize: 22, fontFamily, fill: '#000', align: 'center', verticalAlign: 'middle' }
    });
  }
  if (i >= 2) {
    graphic.push({
      type: 'text', x: r.left + r.width / 2, y: 702,
      style: { text: 'days', fontSize: 22, fontFamily, fill: '#000', align: 'center', verticalAlign: 'middle' }
    });
  }
});

const chart = echarts.init(document.getElementById('chart'));
chart.setOption({
  animation: false,
  backgroundColor: '#fff',
  textStyle: { fontFamily },
  grid, xAxis, yAxis, legend, graphic, series
});
</script>
</body>
</html>
